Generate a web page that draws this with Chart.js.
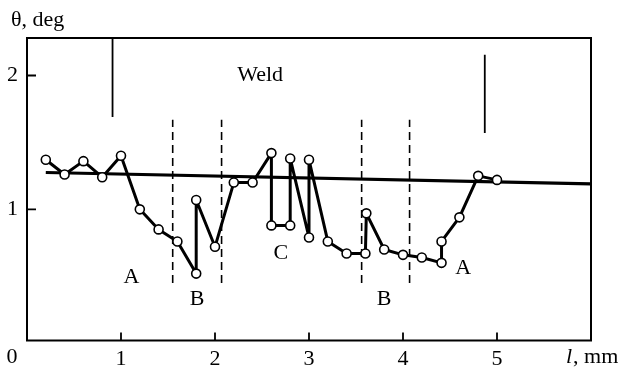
<!DOCTYPE html>
<html>
<head>
<meta charset="utf-8">
<script src="https://cdn.jsdelivr.net/npm/chart.js@4.4.1/dist/chart.umd.min.js"></script>
<style>
  html, body { margin: 0; padding: 0; background: #fff; }
  #wrap { width: 632px; height: 368px; }
</style>
</head>
<body>
<div id="wrap"><canvas id="c" width="632" height="368"></canvas></div>
<script>
// Measured misorientation angle along the scan line
const lengthMm = [0.2, 0.4, 0.6, 0.8, 1.0, 1.2, 1.4, 1.6, 1.8, 1.8, 2.0, 2.2, 2.4, 2.6, 2.6, 2.8, 2.8, 3.0, 3.0, 3.2, 3.4, 3.6, 3.61, 3.8, 4.0, 4.2, 4.41, 4.41, 4.6, 4.8, 5.0];
const thetaDeg = [1.37, 1.26, 1.36, 1.24, 1.40, 1.00, 0.85, 0.76, 0.52, 1.07, 0.72, 1.20, 1.20, 1.42, 0.88, 0.88, 1.38, 0.79, 1.37, 0.76, 0.67, 0.67, 0.97, 0.70, 0.66, 0.64, 0.60, 0.76, 0.94, 1.25, 1.22];

// Straight reference trend
const trendL = [0.2, 6.0];
const trendTheta = [1.275, 1.19];

// Weld boundaries (solid) and zone borders (dashed)
const weldEdgeL = [0.91, 4.87];
const weldEdgeTheta = [[1.69, 2.28], [1.57, 2.155]];
const zoneBorderL = [1.55, 2.07, 3.56, 4.07];
const zoneBorderTheta = [0.45, 1.67];

// Axis ticks
const xTicks = [0, 1, 2, 3, 4, 5, 6];
const yTicks = [1, 2];

// Text annotations placed in data units
const zoneLabels = [
  { text: 'Weld', l: 2.48, t: 2.0 },
  { text: 'A', l: 1.11, t: 0.495 },
  { text: 'B', l: 1.81, t: 0.33 },
  { text: 'C', l: 2.70, t: 0.674 },
  { text: 'B', l: 3.80, t: 0.33 },
  { text: 'A', l: 4.64, t: 0.56 }
];

const SERIF = '"Liberation Serif", "DejaVu Serif", serif';
const FS = 22;

const datasets = [
  {
    data: lengthMm.map((l, i) => ({ x: l, y: thetaDeg[i] })),
    borderColor: '#000',
    borderWidth: 3,
    borderJoinStyle: 'round',
    pointRadius: 4.5,
    pointBackgroundColor: '#fff',
    pointBorderColor: '#000',
    pointBorderWidth: 1.6,
    tension: 0,
    order: 0
  },
  {
    data: trendL.map((l, i) => ({ x: l, y: trendTheta[i] })),
    borderColor: '#000',
    borderWidth: 3.2,
    pointRadius: 0,
    order: 1
  }
];
weldEdgeL.forEach((l, i) => {
  datasets.push({
    data: weldEdgeTheta[i].map(t => ({ x: l, y: t })),
    borderColor: '#000',
    borderWidth: 1.8,
    pointRadius: 0,
    order: 2
  });
});
zoneBorderL.forEach(l => {
  datasets.push({
    data: zoneBorderTheta.map(t => ({ x: l, y: t })),
    borderColor: '#000',
    borderWidth: 1.6,
    borderDash: [8, 5],
    pointRadius: 0,
    order: 2
  });
});

// Frame, inward tick marks and free text
const decor = {
  id: 'decor',
  afterDatasetsDraw(chart) {
    const { ctx, chartArea: a, scales: { x, y } } = chart;
    ctx.save();
    ctx.strokeStyle = '#000';
    ctx.lineWidth = 2;
    ctx.strokeRect(a.left, a.top, a.right - a.left, a.bottom - a.top);

    ctx.lineWidth = 1.8;
    ctx.beginPath();
    xTicks.slice(1, -1).forEach(v => {
      const px = x.getPixelForValue(v);
      ctx.moveTo(px, a.bottom);
      ctx.lineTo(px, a.bottom - 8);
    });
    yTicks.forEach(v => {
      const py = y.getPixelForValue(v);
      ctx.moveTo(a.left, py);
      ctx.lineTo(a.left + 9, py);
    });
    ctx.stroke();

    ctx.fillStyle = '#000';
    ctx.font = FS + 'px ' + SERIF;
    ctx.textAlign = 'center';
    ctx.textBaseline = 'middle';
    zoneLabels.forEach(z => {
      ctx.fillText(z.text, x.getPixelForValue(z.l), y.getPixelForValue(z.t));
    });

    // axis names
    const labelY = a.bottom + 17;
    ctx.fillText('0', x.getPixelForValue(0) - 15, labelY);
    ctx.textAlign = 'left';
    ctx.font = 'italic ' + FS + 'px ' + SERIF;
    const lx = x.getPixelForValue(6) - 25;
    ctx.fillText('l', lx, labelY);
    const wl = ctx.measureText('l').width;
    ctx.font = FS + 'px ' + SERIF;
    ctx.fillText(', mm', lx + wl + 1, labelY);

    ctx.fillText('\u03B8, deg', a.left - 16, a.top - 18);
    ctx.restore();
  }
};

new Chart(document.getElementById('c'), {
  type: 'line',
  data: { datasets },
  options: {
    responsive: false,
    animation: false,
    events: [],
    layout: { padding: { top: 38, right: 41, left: 0, bottom: 0 } },
    plugins: { legend: { display: false }, tooltip: { enabled: false }, title: { display: false } },
    scales: {
      x: {
        type: 'linear',
        min: 0,
        max: 6,
        afterBuildTicks: s => { s.ticks = xTicks.map(v => ({ value: v })); },
        afterFit: s => { s.height = 27.5; },
        grid: { display: false, drawTicks: false },
        border: { display: false },
        ticks: {
          color: '#000',
          padding: 6,
          font: { family: SERIF, size: FS },
          callback: v => (v === 0 || v === 6) ? '' : String(v)
        }
      },
      y: {
        type: 'linear',
        min: 0.02,
        max: 2.28,
        afterBuildTicks: s => { s.ticks = yTicks.map(v => ({ value: v })); },
        afterFit: s => { s.width = 27; },
        grid: { display: false, drawTicks: false },
        border: { display: false },
        ticks: {
          color: '#000',
          padding: 9,
          font: { family: SERIF, size: FS },
          callback: v => String(v)
        }
      }
    }
  },
  plugins: [decor]
});
</script>
</body>
</html>
